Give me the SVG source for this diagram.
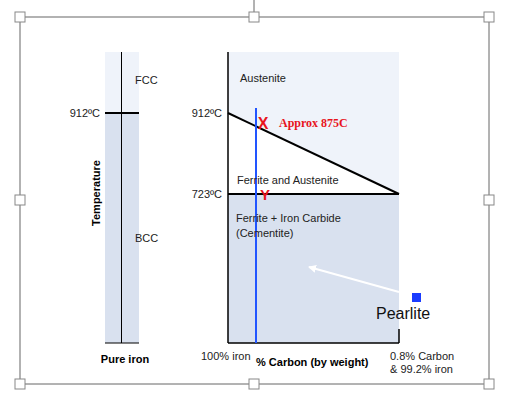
<svg xmlns="http://www.w3.org/2000/svg" width="512" height="399" viewBox="0 0 512 399">
<style>
.t{font-family:"Liberation Sans",Arial,sans-serif;font-size:11px;fill:#222}
.b{font-weight:bold;fill:#000}
.h{fill:#fff;stroke:#888;stroke-width:1}
.ln{stroke:#000;fill:none}
</style>
<defs>
<marker id="ah" markerWidth="8" markerHeight="8" refX="7" refY="4" orient="auto" markerUnits="userSpaceOnUse">
<path d="M0,0 L8,4 L0,8 Z" fill="#fff"/>
</marker>
</defs>
<rect width="512" height="399" fill="#fff"/>
<g id="selection">
<line x1="254" y1="0" x2="254" y2="17" stroke="#666"/>
<rect x="20" y="17" width="469" height="367" fill="none" stroke="#666"/>
<rect class="h" x="15" y="12" width="10" height="10"/>
<rect class="h" x="249" y="12" width="10" height="10"/>
<rect class="h" x="484" y="12" width="10" height="10"/>
<rect class="h" x="15" y="195" width="10" height="10"/>
<rect class="h" x="484" y="195" width="10" height="10"/>
<rect class="h" x="15" y="379" width="10" height="10"/>
<rect class="h" x="249" y="379" width="10" height="10"/>
<rect class="h" x="484" y="379" width="10" height="10"/>
</g>
<g id="pure-iron">
<rect x="105" y="52" width="34" height="61" fill="#eff3fa"/>
<rect x="105" y="113" width="34" height="230" fill="#d9e1ef"/>
<line class="ln" x1="121.5" y1="52" x2="121.5" y2="343" stroke-width="1"/>
<line class="ln" x1="105" y1="113" x2="139" y2="113" stroke-width="2"/>
<line class="ln" x1="105" y1="343" x2="139" y2="343" stroke-width="1"/>
<text class="t" x="135" y="84">FCC</text>
<text class="t" x="135" y="242">BCC</text>
<text class="t" x="100" y="117" text-anchor="end">912ºC</text>
<text class="t b" transform="translate(100,193) rotate(-90)" text-anchor="middle">Temperature</text>
<text class="t b" x="125" y="363" text-anchor="middle">Pure iron</text>
</g>
<g id="phase-chart">
<rect x="228" y="52" width="171" height="142" fill="#eff3fa"/>
<polygon points="228,113 399,194 228,194" fill="#fff"/>
<rect x="228" y="194" width="171" height="149" fill="#d9e1ef"/>
<line class="ln" x1="228" y1="52" x2="228" y2="343" stroke-width="1.5"/>
<line class="ln" x1="228" y1="343" x2="399" y2="343" stroke-width="1.5"/>
<line class="ln" x1="399" y1="329" x2="399" y2="343" stroke-width="1.5"/>
<line class="ln" x1="228" y1="113" x2="399" y2="194" stroke-width="2"/>
<line class="ln" x1="228" y1="194" x2="399" y2="194" stroke-width="2"/>
<line x1="256" y1="108" x2="256" y2="343" stroke="#2255ff" stroke-width="2"/>
<text class="t" x="240" y="82">Austenite</text>
<text class="t" x="222" y="117" text-anchor="end">912ºC</text>
<text class="t" x="222" y="198" text-anchor="end">723ºC</text>
<text class="t" x="237" y="184">Ferrite and Austenite</text>
<text class="t" x="236" y="222">Ferrite + Iron Carbide</text>
<text class="t" x="236" y="237">(Cementite)</text>
<text x="263" y="129" font-family="Liberation Sans,Arial,sans-serif" font-size="16" font-weight="bold" fill="#e8141c" text-anchor="middle">X</text>
<text x="279" y="127" font-family="Liberation Serif,Times New Roman,serif" font-size="12" font-weight="bold" fill="#e8141c">Approx 875C</text>
<text x="265" y="200" font-family="Liberation Sans,Arial,sans-serif" font-size="15" font-weight="bold" fill="#e8141c" text-anchor="middle">Y</text>
<text class="t" x="201" y="360">100% iron</text>
<text class="t b" x="256" y="366">% Carbon (by weight)</text>
<text class="t" x="390" y="360">0.8% Carbon</text>
<text class="t" x="390" y="373">&amp; 99.2% iron</text>
</g>
<g id="pearlite">
<rect x="412" y="293" width="9" height="9" fill="#1a3cff"/>
<text x="376" y="319" font-family="Liberation Sans,Arial,sans-serif" font-size="16" fill="#111">Pearlite</text>
</g>
<g id="connectors">
<line x1="399" y1="292" x2="309" y2="267" stroke="#fff" stroke-width="2" marker-end="url(#ah)"/>
</g>
</svg>
